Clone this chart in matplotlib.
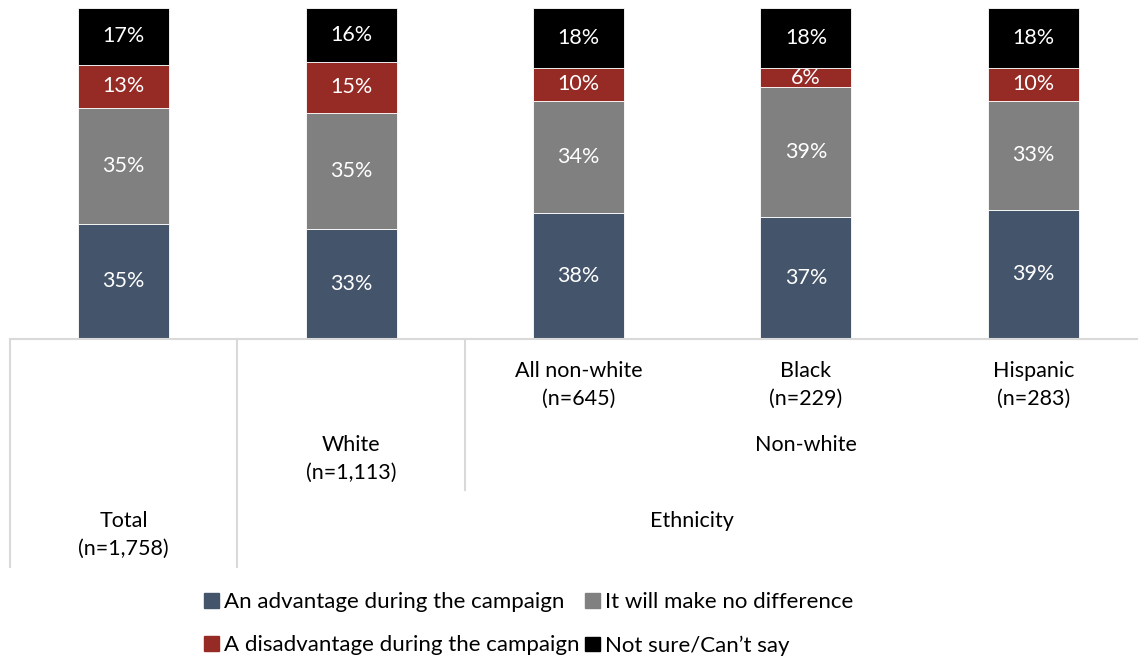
import matplotlib
matplotlib.use('Agg')
import matplotlib.pyplot as plt
from matplotlib.patches import Patch
from matplotlib.transforms import blended_transform_factory
import numpy as np

plt.rcParams['font.family'] = ['Lato', 'DejaVu Sans']

# data (percent)
groups = ['Total', 'White', 'All non-white', 'Black', 'Hispanic']
advantage = [34.8, 33.2, 38.0, 37.0, 39.0]
no_difference = [34.9, 35.1, 34.0, 39.0, 33.0]
disadvantage = [13.2, 15.4, 10.0, 6.0, 10.0]
not_sure = [17.1, 16.3, 18.0, 18.0, 18.0]
series_names = ['An advantage during the campaign', 'It will make no difference',
                'A disadvantage during the campaign', 'Not sure/Can\u2019t say']
colors = ['#44546A', '#808080', '#962A25', '#000000']

W, H = 1138, 662
fig = plt.figure(figsize=(W / 100, H / 100), dpi=100)
ax = fig.add_axes([10 / W, 1 - 339 / H, 1137 / W, 331 / H])

x = np.arange(len(groups))
bottom = np.zeros(len(groups))
for vals, col in zip([advantage, no_difference, disadvantage, not_sure], colors):
    vals = np.array(vals, dtype=float)
    ax.bar(x, vals, 0.4, bottom=bottom, color=col, edgecolor='white', linewidth=0.6)
    for xi, b, v in zip(x, bottom, vals):
        ax.text(xi, b + v / 2, '{0}%'.format(int(round(v))), ha='center', va='center',
                color='white', fontsize=15.5)
    bottom += vals

ax.set_xlim(-0.5, len(groups) - 0.5)
ax.set_ylim(0, 100)
ax.set_xticks([])
ax.set_yticks([])
for s in ['top', 'left', 'right']:
    ax.spines[s].set_visible(False)
ax.spines['bottom'].set_color('#d9d9d9')
ax.spines['bottom'].set_linewidth(1.5)

# multi-level category axis
tr = blended_transform_factory(ax.transData, fig.transFigure)
def fy(py):
    return 1 - py / H
line_kw = dict(color='#d9d9d9', linewidth=1.5, transform=tr, clip_on=False)
ax.plot([-0.5, -0.5], [fy(339), fy(567)], **line_kw)
ax.plot([0.5, 0.5], [fy(339), fy(567)], **line_kw)
ax.plot([1.5, 1.5], [fy(339), fy(490)], **line_kw)

lab_kw = dict(ha='center', va='center', fontsize=15.5, transform=tr, linespacing=1.5)
ax.text(2, fy(385), 'All non-white\n(n=645)', **lab_kw)
ax.text(3, fy(385), 'Black\n(n=229)', **lab_kw)
ax.text(4, fy(385), 'Hispanic\n(n=283)', **lab_kw)
ax.text(1, fy(459), 'White\n(n=1,113)', **lab_kw)
ax.text(3, fy(445), 'Non-white', **lab_kw)
ax.text(0, fy(535), 'Total\n(n=1,758)', **lab_kw)
ax.text(2.5, fy(521), 'Ethnicity', **lab_kw)

# legend
handles = [Patch(color=c) for c in colors]
order = [0, 2, 1, 3]
fig.legend([handles[i] for i in order], [series_names[i] for i in order],
           ncol=2, loc='center', bbox_to_anchor=(529 / W, fy(624)), frameon=False,
           fontsize=16, handlelength=0.65, handleheight=0.65, handletextpad=0.25,
           columnspacing=0.25, labelspacing=1.05, borderpad=0)

fig.savefig('out.png', dpi=100)
